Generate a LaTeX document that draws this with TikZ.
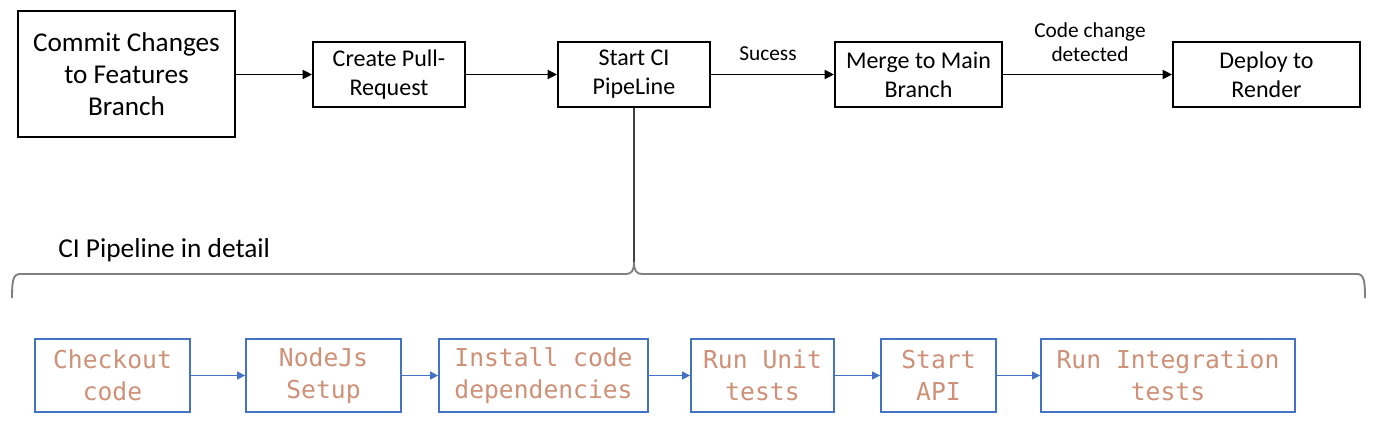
\documentclass[tikz,border=0pt]{standalone}
\usepackage{fontspec}
\setmainfont{Carlito}
\setmonofont{DejaVu Sans Mono}
\usetikzlibrary{arrows.meta}
\definecolor{boxblue}{HTML}{4472C4}
\definecolor{codesalmon}{HTML}{CE9178}
\definecolor{bracegray}{HTML}{7F7F7F}
\tikzset{
  topbox/.style={draw=black, line width=1.6pt, align=center, inner sep=0pt, font=\fontsize{18}{21.75}\selectfont},
  cibox/.style={draw=boxblue, line width=1.3pt, align=center, inner sep=0pt, minimum height=54.75pt, text=codesalmon, font=\ttfamily\fontsize{18.5}{24}\selectfont},
  toparrow/.style={-{Triangle[length=7pt,width=7pt]}, line width=0.75pt, black},
  ciarrow/.style={-{Triangle[length=6pt,width=6pt]}, line width=0.75pt, boxblue},
  lbl/.style={inner sep=0pt, align=center, font=\fontsize{16}{18}\selectfont}
}
\begin{document}
\begin{tikzpicture}[x=0.75pt,y=-0.75pt]
\fill[white] (0,0) rectangle (1373,430);
\useasboundingbox (0,0) rectangle (1373,430);

% top row
\node[topbox, minimum width=162.75pt, minimum height=94.5pt, font=\fontsize{20.4}{24}\selectfont] (commit) at (126.5,74) {Commit Changes\\to Features\\Branch};
\node[topbox, minimum width=114pt, minimum height=48.75pt] (pr) at (389,74.5) {Create Pull-\\Request};
\node[topbox, minimum width=114pt, minimum height=48.75pt] (ci) at (634,74.5) {Start CI\\PipeLine};
\node[topbox, minimum width=125.25pt, minimum height=48.75pt] (merge) at (918.5,74.5) {Merge to Main\\Branch};
\node[topbox, minimum width=140.25pt, minimum height=48.75pt] (deploy) at (1266.5,74.5) {Deploy to\\Render};

\draw[toparrow] (commit.east |- pr.west) -- (pr.west);
\draw[toparrow] (pr.east) -- (ci.west);
\draw[toparrow] (ci.east) -- (merge.west);
\draw[toparrow] (merge.east) -- (deploy.west);

\node[lbl] (lsuc) at (768,54) {Sucess};
\node[lbl] (lcode) at (1090,42) {Code change\\detected};

% brace
\coordinate (tip) at (634,262);
\draw[line width=1pt, black!75] (ci.south) -- (tip);
\draw[line width=1.4pt, bracegray] (12,298) .. controls (12,281) and (13,274) .. (20,274) -- (626,274) .. controls (632,274) and (634,270) .. (tip) .. controls (634,270) and (636,274) .. (642,274) -- (1357,274) .. controls (1364,274) and (1365,281) .. (1365,298);

\node[inner sep=0pt, anchor=west, font=\fontsize{20.5}{24}\selectfont] (title) at (58,250) {CI Pipeline in detail};

% CI row
\node[cibox, minimum width=116.25pt] (c1) at (112.5,375.5) {Checkout\\code};
\node[cibox, minimum width=116.25pt] (c2) at (323.5,375.5) {NodeJs\\Setup};
\node[cibox, minimum width=156.75pt] (c3) at (543.5,375.5) {Install code\\dependencies};
\node[cibox, minimum width=107.25pt] (c4) at (762.5,375.5) {Run Unit\\tests};
\node[cibox, minimum width=86.25pt] (c5) at (938.5,375.5) {Start\\API};
\node[cibox, minimum width=190.5pt] (c6) at (1168,375.5) {Run Integration\\tests};

\draw[ciarrow] (c1.east) -- (c2.west);
\draw[ciarrow] (c2.east) -- (c3.west);
\draw[ciarrow] (c3.east) -- (c4.west);
\draw[ciarrow] (c4.east) -- (c5.west);
\draw[ciarrow] (c5.east) -- (c6.west);
\end{tikzpicture}
\end{document}
